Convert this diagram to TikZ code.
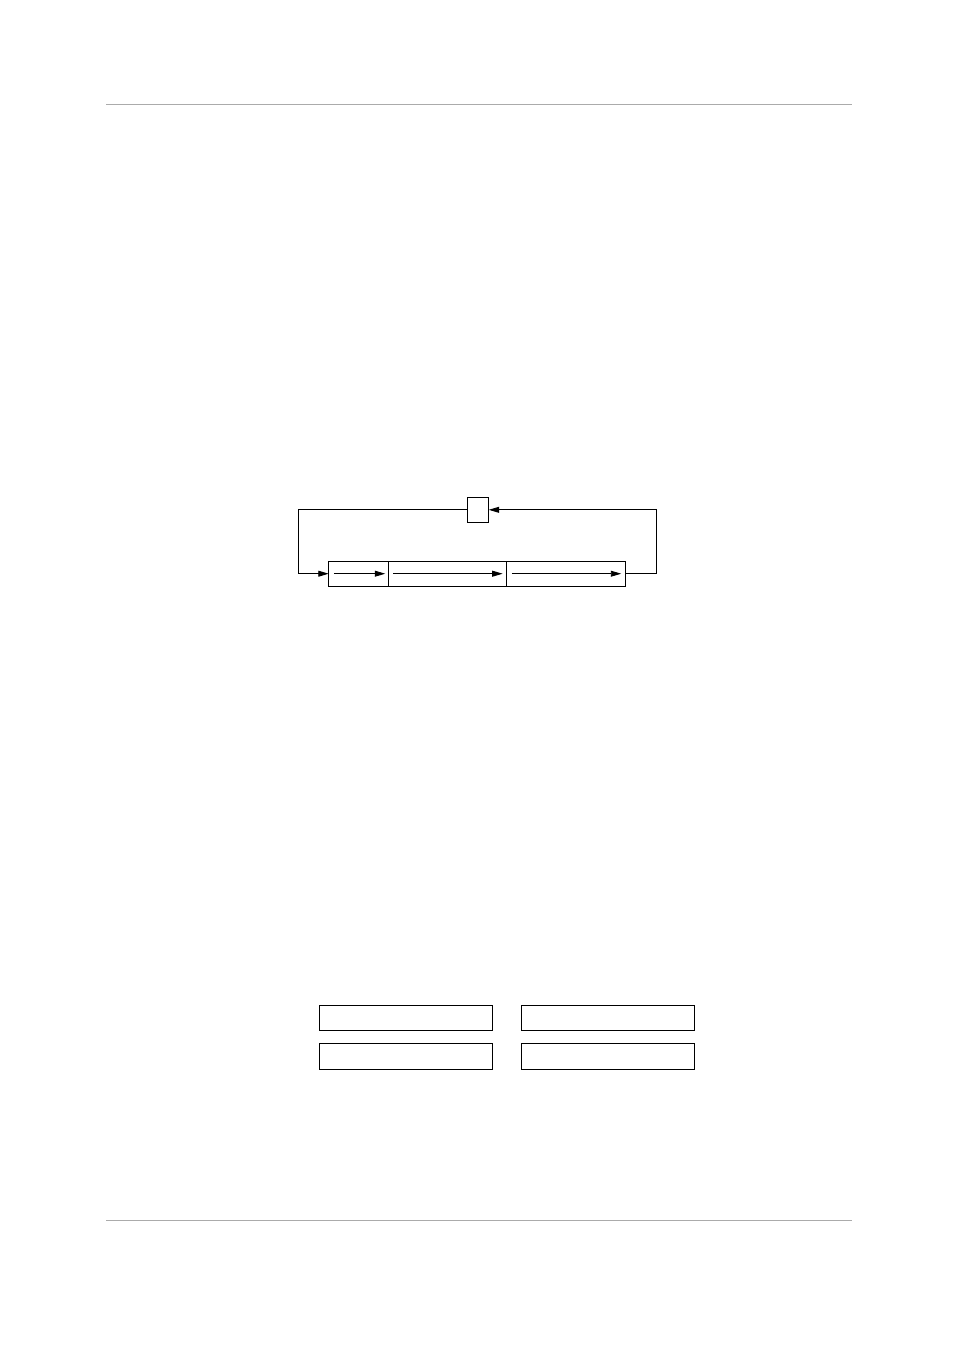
\documentclass[tikz,border=0pt]{standalone}
\usetikzlibrary{arrows.meta}
\usetikzlibrary{positioning}
\tikzset{cell/.style={draw, line width=0.6pt, inner sep=0pt, outer sep=0pt, minimum height=15.85pt},
  buf/.style={draw, line width=0.6pt, inner sep=0pt, outer sep=0pt, minimum width=108.35pt, minimum height=15.97pt},
  arr/.style={line width=0.6pt, -{Triangle[length=2.3mm,width=1.3mm]}},
  rule/.style={line width=0.6pt, black!33}}
\begin{document}
\begin{tikzpicture}[x=0.022013cm, y=-0.022013cm]
      \useasboundingbox (0, 0) rectangle (954, 1350);

      \draw [rule] (106, 104) -- (852, 104);
      \draw [rule] (106, 1220) -- (852, 1220);

      \node [cell, minimum width=13.4pt] (reg) at (478, 509.8) {};
      \node [cell, minimum width=37.33pt] (seg1) at (358.5, 573.7) {};
      \node [cell, minimum width=74.15pt, right=0pt of seg1] (seg2) {};
      \node [cell, minimum width=74.28pt, right=0pt of seg2] (seg3) {};

      \draw [arr] ([xshift=3.3pt]seg1.west) -- ([xshift=-1.9pt]seg1.east);
      \draw [arr] ([xshift=3.1pt]seg2.west) -- ([xshift=-2.5pt]seg2.east);
      \draw [arr] ([xshift=3.3pt]seg3.west) -- ([xshift=-2.5pt]seg3.east);

      \coordinate (lft) at (298.3, 573.7);
      \coordinate (rgt) at (656.7, 509.8);
      \draw [arr] (reg.west) -| (lft) -- (seg1.west);
      \draw [arr] (seg3.east) -| (rgt) -- (reg.east);

      \node [buf] (buf1) at (405.8, 1017.8) {};
      \node [buf, right=18.6pt of buf1] (buf2) {};
      \node [buf, below=8.14pt of buf1] (buf3) {};
      \node [buf, below=8.14pt of buf2] (buf4) {};
\end{tikzpicture}
\end{document}
